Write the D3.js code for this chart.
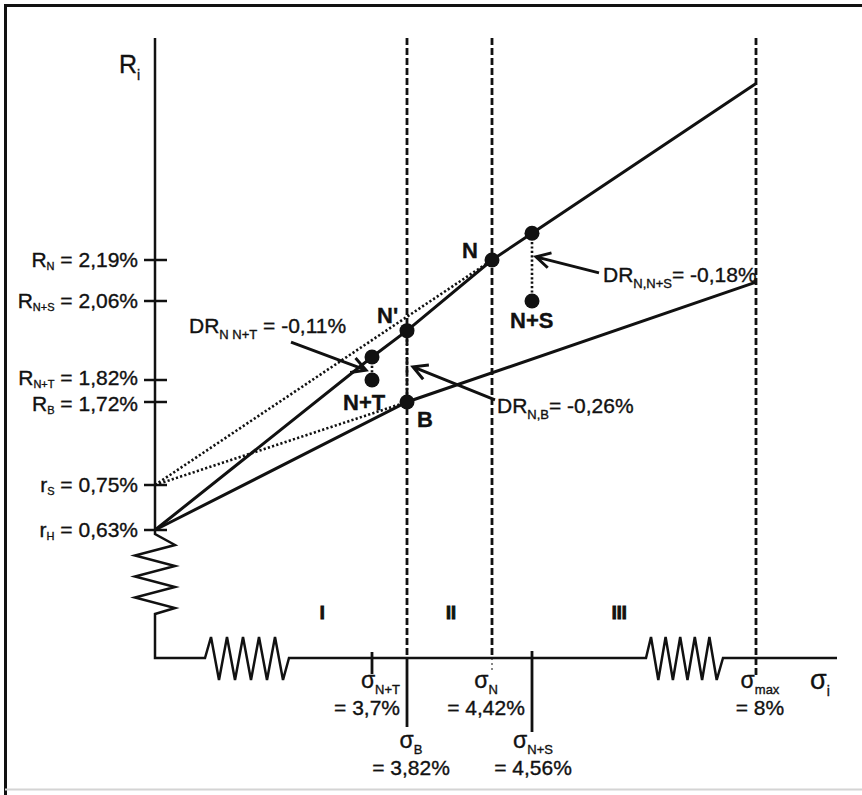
<!DOCTYPE html>
<html>
<head>
<meta charset="utf-8">
<script src="https://cdnjs.cloudflare.com/ajax/libs/d3/7.8.5/d3.min.js"></script>
<style>
body { margin: 0; background: #fff; }
svg { display: block; }
text { font-family: "Liberation Sans", Arial, sans-serif; fill: #111; stroke: #111; stroke-width: 0.35; }
</style>
</head>
<body>
<svg></svg>
<script>
// schematic chart: axes are not to scale, so both scales are piecewise (polylinear)

// sigma (risk, %) keys on the x axis
const sigmaKeys = [0, 3.7, 3.82, 4.42, 4.56, 8]
// return (%) keys on the y axis
const returnKeys = [0.63, 0.75, 1.72, 1.82, 2.06, 2.19]

const returnLabels = [
    {r: 2.19, main: "R", sub: "N", rest: " = 2,19%"},
    {r: 2.06, main: "R", sub: "N+S", rest: " = 2,06%"},
    {r: 1.82, main: "R", sub: "N+T", rest: " = 1,82%"},
    {r: 1.72, main: "R", sub: "B", rest: " = 1,72%"},
    {r: 0.75, main: "r", sub: "S", rest: " = 0,75%"},
    {r: 0.63, main: "r", sub: "H", rest: " = 0,63%"}
]

const sigmaLabels = [
    {s: 3.7, sub: "N+T", rest: "= 3,7%", row: 0, anchor: "end", dx: 28},
    {s: 3.82, sub: "B", rest: "= 3,82%", row: 1, anchor: "middle", dx: 4},
    {s: 4.42, sub: "N", rest: "= 4,42%", row: 0, anchor: "middle", dx: -6},
    {s: 4.56, sub: "N+S", rest: "= 4,56%", row: 1, anchor: "middle", dx: 1},
    {s: 8, sub: "max", rest: "= 8%", row: 0, anchor: "middle", dx: 4}
]

// lines as [sigma, return]
const upperLine = [[0, 0.63], [3.7, 1.89], [3.82, 1.97], [4.42, 2.19], [4.56, 2.275], [8, 2.75]]
const lowerLine = [[0, 0.63], [3.82, 1.72], [8, 2.12]]
const dottedLines = [
    [[0, 0.75], [4.42, 2.19]],
    [[0, 0.75], [3.82, 1.72]],
    [[3.7, 1.89], [3.7, 1.82]],
    [[3.82, 1.97], [3.82, 1.72]],
    [[4.56, 2.275], [4.56, 2.06]]
]

const points = [
    {s: 3.7, r: 1.89, label: ""},
    {s: 3.7, r: 1.82, label: "N+T", dx: -29, dy: 30},
    {s: 3.82, r: 1.97, label: "N'", dx: -30, dy: -8},
    {s: 3.82, r: 1.72, label: "B", dx: 10, dy: 25},
    {s: 4.42, r: 2.19, label: "N", dx: -30, dy: -2},
    {s: 4.56, r: 2.275, label: ""},
    {s: 4.56, r: 2.06, label: "N+S", dx: -22, dy: 27}
]

// arrow tip in data units, tail and text as pixel offsets from the tip
const annotations = [
    {s: 3.7, r: 1.85, tipDx: -6, tail: [-75, -28], sub: "N N+T", rest: " = -0,11%", text: [-177, -37]},
    {s: 3.82, r: 1.86, tipDx: 6, tail: [82, 33], sub: "N,B", rest: "= -0,26%", text: [84, 46]},
    {s: 4.56, r: 2.20, tipDx: 4, tail: [63, 16], sub: "N,N+S", rest: "= -0,18%", text: [67, 25]}
]

const regions = [
    {label: "I", s: 2.85},
    {label: "II", s: 4.13},
    {label: "III", s: 5.9}
]

const svg = d3.select("svg")
    .attr("width", 862)
    .attr("height", 795)

const x = d3.scaleLinear()
    .domain(sigmaKeys)
    .range([155, 372, 407, 492, 532, 756])

const y = d3.scaleLinear()
    .domain(returnKeys)
    .range([530, 485, 402, 380, 301, 260])

const axisY = 658
const axisTop = 38
const x0 = x(0)

const line = d3.line()
    .x(d => x(d[0]))
    .y(d => y(d[1]))

// frame
svg.append("path")
    .attr("d", "M5.5,795 V5.5 H862")
    .attr("fill", "none")
    .attr("stroke", "#111")
    .attr("stroke-width", 3)
svg.append("line")
    .attr("x1", 5).attr("x2", 862)
    .attr("y1", 789.5).attr("y2", 789.5)
    .attr("stroke", "#d4d4d4")
    .attr("stroke-width", 2)

// axes with break zigzags
const axisPts = [[x0, axisTop], [x0, 534]]
for (let k = 0; k < 7; k++) {
    axisPts.push([k % 2 === 0 ? x0 + 20 : x0 - 20, 545 + k * 10.5])
}
axisPts.push([x0, 614], [x0, axisY], [205, axisY])
for (let k = 0; k < 10; k++) {
    axisPts.push([211 + k * 8, k % 2 === 0 ? axisY - 21 : axisY + 22])
}
axisPts.push([289, axisY], [646, axisY])
for (let k = 0; k < 10; k++) {
    axisPts.push([651 + k * 7.3, k % 2 === 0 ? axisY - 21 : axisY + 22])
}
axisPts.push([723, axisY], [837, axisY])

svg.append("path")
    .attr("d", d3.line()(axisPts))
    .attr("fill", "none")
    .attr("stroke", "#111")
    .attr("stroke-width", 2.5)
    .attr("stroke-linejoin", "miter")

// y ticks and labels
const yTicks = svg.selectAll("g.ytick")
    .data(returnLabels)
    .enter()
    .append("g")
    .attr("class", "ytick")
    .attr("transform", d => `translate(0,${y(d.r)})`)

yTicks.append("line")
    .attr("x1", x0 - 11).attr("x2", x0 + 12)
    .attr("stroke", "#111")
    .attr("stroke-width", 2.5)

// the two closest labels are pushed apart a little so they do not touch
const nudge = v => v === 1.82 ? -2 : v === 1.72 ? 2 : 0

const yText = yTicks.append("text")
    .attr("x", 138)
    .attr("y", d => 7 + nudge(d.r))
    .attr("text-anchor", "end")
    .attr("font-size", 21)
yText.append("tspan").text(d => d.main)
yText.append("tspan").attr("dy", 3).attr("font-size", 11).text(d => d.sub)
yText.append("tspan").attr("dy", -3).text(d => d.rest)

// vertical dashed guides
const dashed = [3.82, 4.42, 8]
svg.selectAll("line.guide")
    .data(dashed)
    .enter()
    .append("line")
    .attr("class", "guide")
    .attr("x1", d => x(d)).attr("x2", d => x(d))
    .attr("y1", axisTop).attr("y2", axisY)
    .attr("stroke", "#111")
    .attr("stroke-width", 2.8)
    .attr("stroke-dasharray", "7,3")

// ticks below the x axis
const xTickMarks = [
    {s: 3.7, y1: axisY - 6, y2: axisY + 16, dash: null},
    {s: 3.82, y1: axisY, y2: axisY + 69, dash: null},
    {s: 4.42, y1: axisY, y2: axisY + 14, dash: "2,3"},
    {s: 4.56, y1: axisY - 7, y2: axisY + 74, dash: null},
    {s: 8, y1: axisY, y2: axisY + 18, dash: "7,3"}
]
svg.selectAll("line.xtick")
    .data(xTickMarks)
    .enter()
    .append("line")
    .attr("class", "xtick")
    .attr("x1", d => x(d.s)).attr("x2", d => x(d.s))
    .attr("y1", d => d.y1).attr("y2", d => d.y2)
    .attr("stroke", "#111")
    .attr("stroke-width", d => d.s === 4.42 ? 1 : 2.8)
    .attr("stroke-dasharray", d => d.dash)

// x labels
const rowY = [[688, 715], [748, 775]]
const xLab = svg.selectAll("g.xlab")
    .data(sigmaLabels)
    .enter()
    .append("g")
    .attr("class", "xlab")
    .attr("text-anchor", d => d.anchor)
    .attr("font-size", 21)

const sigText = xLab.append("text")
    .attr("x", d => x(d.s) + d.dx)
    .attr("y", d => rowY[d.row][0])
sigText.append("tspan").attr("font-size", 23).text("σ")
sigText.append("tspan").attr("dy", 6).attr("font-size", 13).text(d => d.sub)

xLab.append("text")
    .attr("x", d => x(d.s) + d.dx)
    .attr("y", d => rowY[d.row][1])
    .text(d => d.rest)

// axis titles
const ri = svg.append("text").attr("x", 119).attr("y", 73).attr("font-size", 25)
ri.append("tspan").text("R")
ri.append("tspan").attr("dy", 7).attr("font-size", 14).text("i")

const si = svg.append("text").attr("x", 810).attr("y", 689).attr("font-size", 27)
si.append("tspan").text("σ")
si.append("tspan").attr("dy", 7).attr("font-size", 14).text("i")

// regions
svg.selectAll("text.region")
    .data(regions)
    .enter()
    .append("text")
    .attr("class", "region")
    .attr("x", d => x(d.s))
    .attr("y", 619)
    .attr("text-anchor", "middle")
    .attr("font-size", 18)
    .attr("font-weight", "bold")
    .style("stroke-width", 1)
    .text(d => d.label)

// dotted lines
svg.selectAll("path.dotted")
    .data(dottedLines)
    .enter()
    .append("path")
    .attr("class", "dotted")
    .attr("d", line)
    .attr("fill", "none")
    .attr("stroke", "#111")
    .attr("stroke-width", 2.6)
    .attr("stroke-dasharray", "2.2,2.2")

// solid lines
svg.selectAll("path.solid")
    .data([upperLine, lowerLine])
    .enter()
    .append("path")
    .attr("class", "solid")
    .attr("d", line)
    .attr("fill", "none")
    .attr("stroke", "#111")
    .attr("stroke-width", 3)

// points
svg.selectAll("circle.pt")
    .data(points)
    .enter()
    .append("circle")
    .attr("class", "pt")
    .attr("cx", d => x(d.s))
    .attr("cy", d => y(d.r))
    .attr("r", 7.5)
    .attr("fill", "#111")

svg.selectAll("text.ptlabel")
    .data(points.filter(d => d.label))
    .enter()
    .append("text")
    .attr("class", "ptlabel")
    .attr("x", d => x(d.s) + d.dx)
    .attr("y", d => y(d.r) + d.dy)
    .attr("font-size", 22)
    .attr("font-weight", "bold")
    .text(d => d.label)

// annotations with arrows
annotations.forEach(a => {
    const tx = x(a.s) + a.tipDx
    const ty = y(a.r)
    const sx = tx + a.tail[0]
    const sy = ty + a.tail[1]
    const ang = Math.atan2(ty - sy, tx - sx)
    const len = 16
    const spread = 0.5
    const b1 = [tx - len * Math.cos(ang - spread), ty - len * Math.sin(ang - spread)]
    const b2 = [tx - len * Math.cos(ang + spread), ty - len * Math.sin(ang + spread)]

    svg.append("path")
        .attr("d", `M${sx},${sy} L${tx},${ty} M${b1[0]},${b1[1]} L${tx},${ty} L${b2[0]},${b2[1]}`)
        .attr("fill", "none")
        .attr("stroke", "#111")
        .attr("stroke-width", 3)

    const t = svg.append("text")
        .attr("x", tx + a.text[0])
        .attr("y", ty + a.text[1])
        .attr("font-size", 21)
    t.append("tspan").text("DR")
    t.append("tspan").attr("dy", 6).attr("font-size", 13).text(a.sub)
    t.append("tspan").attr("dy", -6).text(a.rest)
})
</script>
</body>
</html>
